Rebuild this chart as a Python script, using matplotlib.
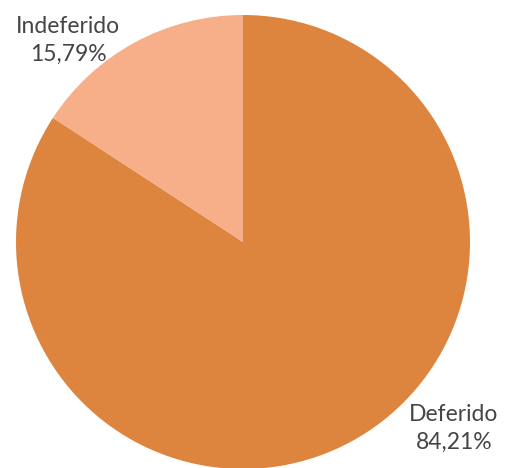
import matplotlib
matplotlib.use("Agg")
import matplotlib.pyplot as plt

categories = ["Deferido", "Indeferido"]
values = [84.21, 15.79]
labels = ["84,21%", "15,79%"]
colors = ["#DD843E", "#F6AF88"]

fig = plt.figure(figsize=(5.05, 4.68), dpi=100)
ax = fig.add_axes([0, 0, 1, 1])

ax.pie(values, colors=colors, startangle=90, counterclock=False,
       center=(243, 226), radius=227, frame=True,
       wedgeprops=dict(linewidth=0))
ax.set_xlim(0, 505)
ax.set_ylim(0, 468)
ax.set_aspect("equal")
ax.axis("off")

txt = dict(ha="center", va="center", color="#454545", fontsize=16.5, family="Lato", linespacing=1.4)
ax.text(68, 428, f"{categories[1]}\n{labels[1]}", **txt)
ax.text(454, 40, f"{categories[0]}\n{labels[0]}", **txt)

fig.savefig("out.png", dpi=100)
